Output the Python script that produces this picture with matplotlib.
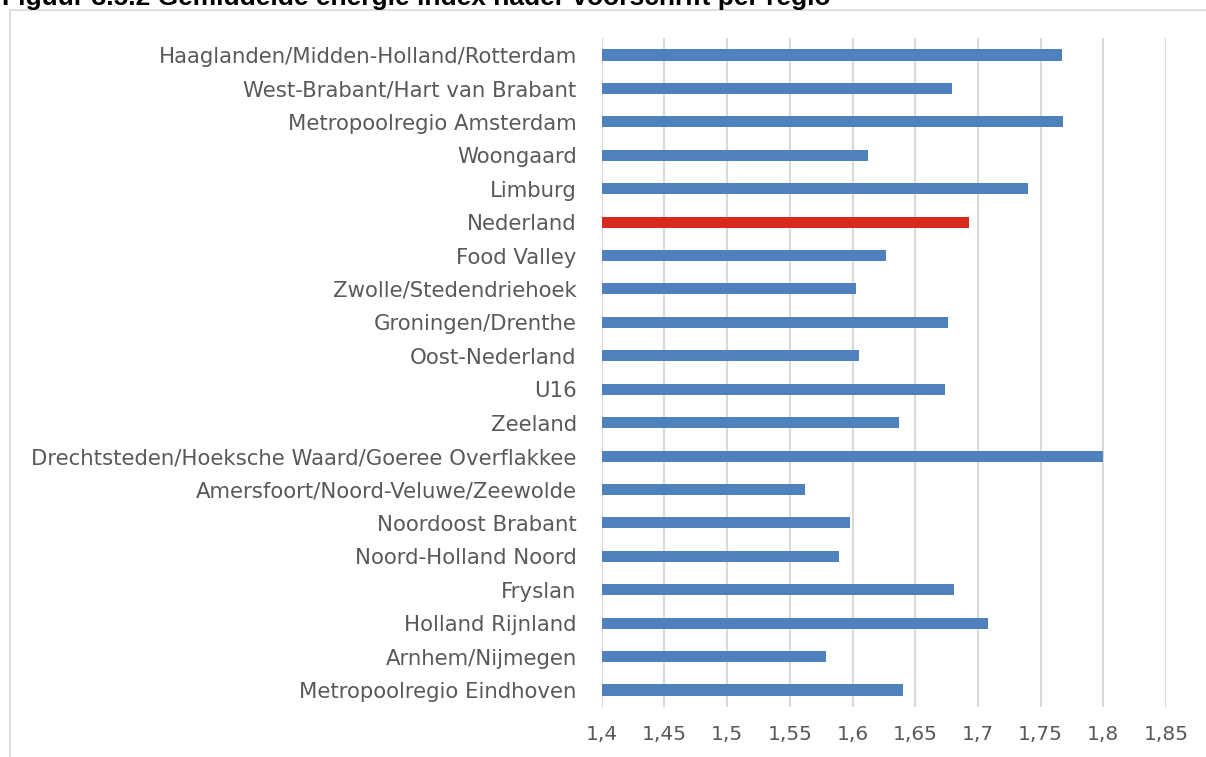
import matplotlib
matplotlib.use("Agg")
import matplotlib.pyplot as plt
from matplotlib.patches import Rectangle

# -----------------------------
# Data (top to bottom)
# -----------------------------
regions = [
    "Haaglanden/Midden-Holland/Rotterdam",
    "West-Brabant/Hart van Brabant",
    "Metropoolregio Amsterdam",
    "Woongaard",
    "Limburg",
    "Nederland",
    "Food Valley",
    "Zwolle/Stedendriehoek",
    "Groningen/Drenthe",
    "Oost-Nederland",
    "U16",
    "Zeeland",
    "Drechtsteden/Hoeksche Waard/Goeree Overflakkee",
    "Amersfoort/Noord-Veluwe/Zeewolde",
    "Noordoost Brabant",
    "Noord-Holland Noord",
    "Fryslan",
    "Holland Rijnland",
    "Arnhem/Nijmegen",
    "Metropoolregio Eindhoven",
]
energie_index = [
    1.767, 1.679, 1.768, 1.612, 1.740, 1.693, 1.627, 1.603, 1.676, 1.605,
    1.674, 1.637, 1.800, 1.562, 1.598, 1.589, 1.681, 1.708, 1.579, 1.640,
]
x_ticks = [1.4, 1.45, 1.5, 1.55, 1.6, 1.65, 1.7, 1.75, 1.8, 1.85]
tick_labels = ["1,4", "1,45", "1,5", "1,55", "1,6", "1,65", "1,7", "1,75", "1,8", "1,85"]
highlight = "Nederland"

title = "Figuur 3.5.2 Gemiddelde energie index nader voorschrift per regio"

BLUE = "#4F81BD"
RED = "#D62A1E"
GRID = "#D9D9D9"
TXT = "#595959"

W, H = 1206, 757
fig = plt.figure(figsize=(W / 100, H / 100), dpi=100)

# chart border (cut off at right and bottom in the reference)
fig.patches.append(Rectangle((9.5 / W, -0.1), 2, 1 - 9.5 / H + 0.1,
                             transform=fig.transFigure, fill=False,
                             edgecolor=GRID, linewidth=1.2))

ax = fig.add_axes([601.7 / W, 1 - 706.7 / H, (1166 - 601.7) / W, (706.7 - 38.3) / H])

y = list(range(len(regions)))
colors = [RED if r == highlight else BLUE for r in regions]
ax.barh(y, [v - 1.4 for v in energie_index], left=1.4, height=0.33,
        color=colors, zorder=3)

ax.set_ylim(len(regions) - 0.5, -0.5)
ax.set_xlim(1.4, 1.85)
ax.set_yticks(y)
ax.set_yticklabels(regions, fontsize=15.3, color=TXT, family="DejaVu Sans")
ax.set_xticks(x_ticks)
ax.set_xticklabels(tick_labels, fontsize=14.5, color=TXT, family="DejaVu Sans")
ax.tick_params(axis="y", length=0, pad=18)
ax.tick_params(axis="x", length=0, pad=13)

ax.grid(axis="x", color=GRID, linewidth=1.5, zorder=0)
ax.grid(axis="y", visible=False)
for s in ax.spines.values():
    s.set_visible(False)

fig.text(2 / W, 1 - 5 / H, title, fontsize=19, fontweight="bold",
         family="Liberation Sans", ha="left", va="baseline", color="black")

fig.savefig("out.png", dpi=100)
